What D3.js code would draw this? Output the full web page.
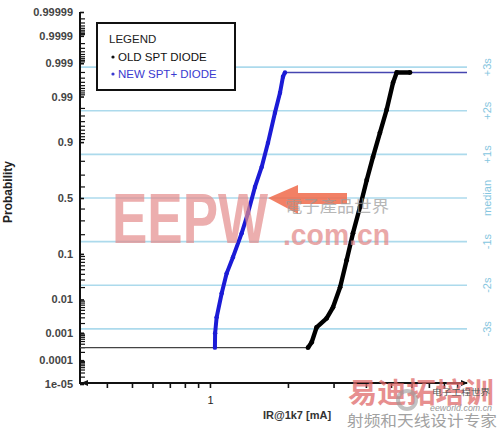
<!DOCTYPE html>
<html><head><meta charset="utf-8">
<script src="https://cdn.jsdelivr.net/npm/d3@7"></script>
<style>html,body{margin:0;padding:0;background:#fff;}svg{display:block;font-family:"Liberation Sans",Arial,sans-serif;}</style>
</head><body>
<svg id="chart" width="500" height="429"></svg>
<script>
// ---- data ----
const newX = [1.045, 1.047, 1.061, 1.110, 1.160, 1.227, 1.326, 1.402, 1.492, 1.584, 1.675, 1.782, 1.864, 1.914, 1.948];
const newP = [0.0003, 0.00097, 0.0031, 0.0145, 0.042, 0.0875, 0.21, 0.365, 0.60, 0.762, 0.897, 0.9747, 0.9921, 0.9973, 0.998];
const oldX = [2.39, 2.47, 2.58, 2.82, 2.985, 3.18, 3.37, 3.565, 3.795, 4.03, 4.26, 4.53, 4.81, 5.09, 5.26, 5.92];
const oldP = [0.0003, 0.00047, 0.0015, 0.0029, 0.0061, 0.0204, 0.077, 0.21, 0.418, 0.66, 0.827, 0.9324, 0.9785, 0.9959, 0.998, 0.998];
const yTickProbs = [0.99999, 0.9999, 0.999, 0.99, 0.9, 0.5, 0.1, 0.01, 0.001, 0.0001, 0.00001];
const yTickLabels = ["0.99999", "0.9999", "0.999", "0.99", "0.9", "0.5", "0.1", "0.01", "0.001", "0.0001", "1e-05"];
const sigmaValues = [3, 2, 1, 0, -1, -2, -3];
const sigmaLabels = ["+3s", "+2s", "+1s", "median", "-1s", "-2s", "-3s"];
const xTickValues = [1];
const xTickLabels = ["1"];
const legendTitle = "LEGEND";
const seriesNames = ["OLD SPT DIODE", "NEW SPT+ DIODE"];
const xTitle = "IR@1k7 [mA]";
const yTitle = "Probability";

// inverse normal CDF (Acklam) for probit scale
function probit(p){
  const a=[-3.969683028665376e+01,2.209460984245205e+02,-2.759285104469687e+02,1.383577518672690e+02,-3.066479806614716e+01,2.506628277459239e+00];
  const b=[-5.447609879822406e+01,1.615858368580409e+02,-1.556989798598866e+02,6.680131188771972e+01,-1.328068155288572e+01];
  const c=[-7.784894002430293e-03,-3.223964580411365e-01,-2.400758277161838e+00,-2.549732539343734e+00,4.374664141464968e+00,2.938163982698783e+00];
  const d=[7.784695709041462e-03,3.224671290700398e-01,2.445134137142996e+00,3.754408661907416e+00];
  const pl=0.02425, ph=1-pl; let q,r;
  if(p<pl){q=Math.sqrt(-2*Math.log(p));return (((((c[0]*q+c[1])*q+c[2])*q+c[3])*q+c[4])*q+c[5])/((((d[0]*q+d[1])*q+d[2])*q+d[3])*q+1);}
  if(p<=ph){q=p-0.5;r=q*q;return (((((a[0]*r+a[1])*r+a[2])*r+a[3])*r+a[4])*r+a[5])*q/(((((b[0]*r+b[1])*r+b[2])*r+b[3])*r+b[4])*r+1);}
  q=Math.sqrt(-2*Math.log(1-p));return -(((((c[0]*q+c[1])*q+c[2])*q+c[3])*q+c[4])*q+c[5])/((((d[0]*q+d[1])*q+d[2])*q+d[3])*q+1);
}

const svg = d3.select("#chart");
const X0=80, X1=469, YT=12, YB=384;
const x = d3.scaleLog().domain([0.315, 10]).range([X0, X1]);
const z = d3.scaleLinear().domain([probit(0.00001), probit(0.99999)]).range([YB, YT]);
const y = p => z(probit(p));

// sigma guide lines
const gs = svg.append("g");
gs.selectAll("line").data(sigmaValues).join("line")
  .attr("x1", X0).attr("x2", 467).attr("y1", d=>z(d)).attr("y2", d=>z(d))
  .attr("stroke", "#acdaec").attr("stroke-width", 1.6);
gs.selectAll("text").data(sigmaValues).join("text")
  .attr("transform", d=>`translate(491,${z(d)}) rotate(-90)`)
  .attr("text-anchor","middle").attr("font-size", 11).attr("fill", "#86c6e0")
  .text((d,i)=>sigmaLabels[i]);

// y axis minor ticks
const minorAll = [];
[0.00001,0.0001,0.001,0.01].forEach(base=>{ for(let k=2;k<=9;k++) minorAll.push(base*k); });
[0.2,0.3,0.4,0.6,0.7,0.8].forEach(v=>minorAll.push(v));
[0.01,0.001,0.0001,0.00001].forEach(base=>{ for(let k=2;k<=9;k++) minorAll.push(1-base*k); });
svg.append("g").selectAll("line").data(minorAll).join("line")
  .attr("x1", X0).attr("x2", X0+5).attr("y1", d=>y(d)).attr("y2", d=>y(d))
  .attr("stroke", "#111").attr("stroke-width", 1.2);

// y axis
const yAxis = d3.axisLeft(z).tickValues(yTickProbs.map(probit))
  .tickFormat((d,i)=>yTickLabels[i]).tickSize(5).tickPadding(2);
const gy = svg.append("g").attr("transform", `translate(${X0},0)`).call(yAxis);
gy.select(".domain").remove();
gy.selectAll(".tick line").attr("stroke","#111").attr("stroke-width",1.6).attr("x2",4);
gy.selectAll(".tick text").attr("font-size", 11).attr("font-weight","bold").attr("fill","#444")
  .attr("font-family", '"Liberation Sans",Arial,sans-serif');
svg.append("line").attr("x1",X0).attr("x2",X0).attr("y1",YT).attr("y2",YB)
  .attr("stroke","#111").attr("stroke-width",2);

// x axis
const xMinor = [0.4,0.5,0.6,0.7,0.8,0.9,1,2,3,4,5,6,7,8,9];
const xAxis = d3.axisBottom(x).tickValues(xMinor).tickSize(5)
  .tickFormat(d=>{const i=xTickValues.indexOf(d);return i>=0?xTickLabels[i]:"";}).tickPadding(8);
const gx = svg.append("g").attr("transform", `translate(0,${YB-1})`).call(xAxis);
gx.select(".domain").remove();
gx.selectAll(".tick line").attr("stroke","#111").attr("stroke-width",1.6);
gx.selectAll(".tick text").attr("font-size", 11).attr("fill","#222")
  .attr("font-family", '"Liberation Sans",Arial,sans-serif');
svg.append("line").attr("x1",X0).attr("x2",X1-2).attr("y1",YB-1).attr("y2",YB-1)
  .attr("stroke","#111").attr("stroke-width",2);
svg.append("path").attr("d",`M${X0+1},${YB-1} l7,-3 l0,6 z`).attr("fill","#111");
svg.append("path").attr("d",`M${X1-1},${YB-1} l-7,-3 l0,6 z`).attr("fill","#111");

// titles
svg.append("text").attr("x",297).attr("y",419).attr("text-anchor","middle")
  .attr("font-size",11).attr("font-weight","bold").attr("fill","#333").text(xTitle);
svg.append("text").attr("transform","translate(12,192) rotate(-90)").attr("text-anchor","middle")
  .attr("font-size",12).attr("font-weight","bold").attr("fill","#222").text(yTitle);

// extension lines
const line = d3.line().x(d=>x(d[0])).y(d=>y(d[1]));
svg.append("line").attr("x1",X0).attr("x2",x(oldX[0])).attr("y1",y(oldP[0])).attr("y2",y(oldP[0]))
  .attr("stroke","#444").attr("stroke-width",1.1);
svg.append("line").attr("x1",x(newX[newX.length-1])).attr("x2",467)
  .attr("y1",y(newP[newP.length-1])).attr("y2",y(newP[newP.length-1]))
  .attr("stroke","#4545b0").attr("stroke-width",1.6);

// series
const newPts = newX.map((v,i)=>[v,newP[i]]);
const oldPts = oldX.map((v,i)=>[v,oldP[i]]);
svg.append("path").attr("d", line(oldPts)).attr("fill","none").attr("stroke","#000").attr("stroke-width",4.4).attr("stroke-linejoin","round");
svg.append("g").selectAll("circle").data(oldPts).join("circle")
  .attr("cx",d=>x(d[0])).attr("cy",d=>y(d[1])).attr("r",2.4).attr("fill","#000");
svg.append("path").attr("d", line(newPts)).attr("fill","none").attr("stroke","#1b1bd6").attr("stroke-width",4).attr("stroke-linejoin","round");
svg.append("g").selectAll("circle").data(newPts).join("circle")
  .attr("cx",d=>x(d[0])).attr("cy",d=>y(d[1])).attr("r",2.2).attr("fill","#1b1bd6");

// legend
const lg = svg.append("g");
lg.append("rect").attr("x",97).attr("y",23).attr("width",138).attr("height",67)
  .attr("fill","#fff").attr("stroke","#111").attr("stroke-width",2);
lg.append("text").attr("x",109).attr("y",43).attr("font-size",11.5).attr("fill","#222").text(legendTitle);
const lgColors = ["#111","#3a3ad0"];
seriesNames.forEach((n,i)=>{
  lg.append("circle").attr("cx",113).attr("cy",57+i*17).attr("r",1.6).attr("fill",lgColors[i]);
  lg.append("text").attr("x",118).attr("y",61+i*17).attr("font-size",11.5).attr("fill",lgColors[i]).text(n);
});

// watermarks
const wm = svg.append("g");
wm.append("text").attr("x",112).attr("y",243).attr("font-size",70).attr("font-weight","bold")
  .attr("textLength",156).attr("lengthAdjust","spacingAndGlyphs").attr("fill","#e48c8c").attr("opacity",0.7).text("EEPW");
wm.append("path").attr("d","M268,198 L298,185 L298,193 L347,193 L347,204 L298,204 L298,214 Z")
  .attr("fill","#f06a4a").attr("opacity",0.85);
wm.append("text").attr("x",285).attr("y",212).attr("font-size",16)
  .attr("textLength",104).attr("lengthAdjust","spacingAndGlyphs")
  .attr("font-family",'"Noto Sans CJK TC"').attr("fill","#999").attr("opacity",0.7).text("電子產品世界");
wm.append("text").attr("x",283).attr("y",245).attr("font-size",30).attr("font-weight","bold")
  .attr("textLength",107).attr("lengthAdjust","spacingAndGlyphs").attr("fill","#e48c8c").attr("opacity",0.75).text(".com.cn");
wm.append("text").attr("x",348).attr("y",403).attr("font-size",28).attr("font-weight","bold")
  .attr("textLength",146).attr("lengthAdjust","spacingAndGlyphs")
  .attr("font-family",'"Noto Sans CJK SC"').attr("fill","#e06a6a").attr("opacity",0.75).text("易迪拓培训");
wm.append("circle").attr("cx",407).attr("cy",400).attr("r",9).attr("fill","none").attr("stroke","#999").attr("stroke-width",4).attr("opacity",0.6);
wm.append("text").attr("x",432).attr("y",395).attr("font-size",8)
  .attr("font-family",'"Noto Sans CJK SC"').attr("fill","#555").attr("textLength",58).attr("lengthAdjust","spacingAndGlyphs").text("电子工程世界");
wm.append("text").attr("x",430).attr("y",411).attr("font-size",9).attr("font-style","italic")
  .attr("fill","#999").attr("textLength",62).attr("lengthAdjust","spacingAndGlyphs").text("eeworld.com.cn");
wm.append("text").attr("x",347).attr("y",426).attr("font-size",15)
  .attr("textLength",150).attr("lengthAdjust","spacingAndGlyphs")
  .attr("font-family",'"Noto Sans CJK SC"').attr("fill","#8a8a8a").attr("opacity",0.8).text("射频和天线设计专家");
</script>
</body></html>
